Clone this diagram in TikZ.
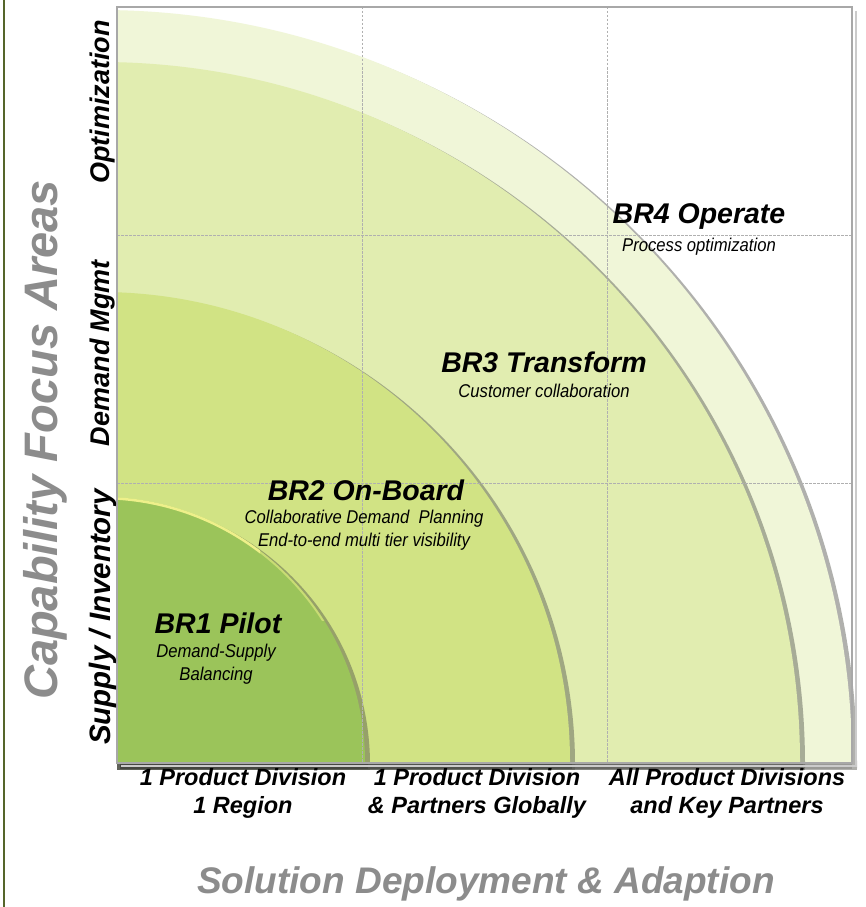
\documentclass[tikz,border=0pt]{standalone}
\usepackage{fontspec}
\setmainfont{Liberation Sans}
\definecolor{gA}{HTML}{9BC45A}
\definecolor{gB}{HTML}{D1E384}
\definecolor{gC}{HTML}{E1EDB0}
\definecolor{gD}{HTML}{F0F6D8}
\definecolor{axgrey}{HTML}{8C8C8C}
\definecolor{gridgrey}{HTML}{B0B0B0}
\definecolor{framegrey}{HTML}{A8A8A8}
\definecolor{borderolive}{HTML}{55652A}
\definecolor{rimyellow}{HTML}{EEF08A}
\definecolor{shadowc}{HTML}{50524A}
\begin{document}
\begin{tikzpicture}[x=1pt,y=-1pt,
  title/.style={font=\bfseries\itshape\fontsize{28.5}{30}\selectfont, inner sep=0pt},
  sub/.style={font=\itshape\fontsize{18.5}{22.5}\selectfont, inner sep=0pt, align=center, xscale=0.9},
  axlab/.style={font=\bfseries\itshape\fontsize{23.5}{28}\selectfont, inner sep=0pt, align=center},
  rowlab/.style={font=\bfseries\itshape\fontsize{27}{28}\selectfont, inner sep=0pt, rotate=90},
  axtitle/.style={font=\bfseries\itshape\fontsize{37}{40}\selectfont, text=axgrey, inner sep=0pt},
  gridline/.style={draw=gridgrey, line width=0.8pt, dash pattern=on 2.5pt off 1.5pt},
  shade/.style={fill=shadowc, opacity=0.45},
  band/.style={fill=black, opacity=0.13},
]
\useasboundingbox (0,0) rectangle (866,907);
\fill[white] (0,0) rectangle (866,907);
\coordinate (O) at (100,762);
\coordinate (Os) at (105,764.5);
% left border
\draw[borderolive, line width=2pt] (3.5,0) -- (3.5,907);
% sectors with shadows
\begin{scope}
  \clip (117,7) rectangle (857,769);
  \fill[shade] (Os) circle[radius=752];
  \fill[band] (120,762) rectangle (852,769);
  \begin{scope}
    \clip (117,7) rectangle (852,762);
    \fill[gD] (O) circle[radius=752];
  \end{scope}
  \fill[shade] (Os) circle[radius=700];
  \fill[band] (120,762) rectangle (803,769);
  \begin{scope}
    \clip (117,7) rectangle (852,762);
    \fill[gC] (O) circle[radius=700];
  \end{scope}
  \fill[shade] (Os) circle[radius=470];
  \fill[band] (120,762) rectangle (572,769);
  \begin{scope}
    \clip (117,7) rectangle (852,762);
    \fill[gB] (O) circle[radius=470];
  \end{scope}
  \fill[shade] (Os) circle[radius=265];
  \fill[band] (120,762) rectangle (368,769);
  \begin{scope}
    \clip (117,7) rectangle (852,762);
    \fill[gA] (O) circle[radius=265];
  \end{scope}
  \begin{scope}
    \clip (117,470) rectangle (260,600);
    \draw[rimyellow, line width=2.5pt] (O) circle[radius=264];
  \end{scope}
  \begin{scope}
    \clip (260,470) rectangle (330,620);
    \draw[rimyellow, line width=2pt, opacity=0.55] (O) circle[radius=264];
  \end{scope}
\end{scope}
% grid
\coordinate (v1t) at (362,7);  \coordinate (v1b) at (362,762);
\coordinate (v2t) at (607,7);  \coordinate (v2b) at (607,762);
\coordinate (h1l) at (117,235); \coordinate (h1r) at (852,235);
\coordinate (h2l) at (117,483); \coordinate (h2r) at (852,483);
\draw[gridline] (v1t) -- (v1b);
\draw[gridline] (v2t) -- (v2b);
\draw[gridline] (h1l) -- (h1r);
\draw[gridline] (h2l) -- (h2r);
% frame
\draw[framegrey!60, line width=1.5pt] (856,11) -- (856,766) -- (121,766);
\draw[framegrey, line width=2.5pt] (117,7) rectangle (852,763);
% row labels
\node[rowlab] (opt) at (103,102) {Optimization};
\node[rowlab] (dm) at (103,353) {Demand Mgmt};
\node[rowlab, font=\bfseries\itshape\fontsize{29.5}{30}\selectfont] (si) at (103,617) {Supply / Inventory};
% axis titles
\node[axtitle, rotate=90, font=\bfseries\itshape\fontsize{47}{50}\selectfont] (yt) at (45,440) {Capability Focus Areas};
\node[axtitle] (xt) at (486,884) {Solution Deployment \& Adaption};
% column labels
\node[axlab] (c1) at (243,793) {1 Product Division\\1 Region};
\node[axlab] (c2) at (477,793) {1 Product Division\\\& Partners Globally};
\node[axlab] (c3) at (727,793) {All Product Divisions\\and Key Partners};
% stage labels
\node[title] (br1) at (218,623) {BR1 Pilot};
\node[sub] (br1s) at (216,664) {Demand-Supply\\Balancing};
\node[title] (br2) at (366,490) {BR2 On-Board};
\node[sub] (br2s) at (364,530) {Collaborative Demand\ \ Planning\\End-to-end multi tier visibility};
\node[title] (br3) at (544,362) {BR3 Transform};
\node[sub] (br3s) at (544,391) {Customer collaboration};
\node[title] (br4) at (699,217) {BR4 Operate};
\node[sub] (br4s) at (699,247) {Process optimization};
\end{tikzpicture}
\end{document}
